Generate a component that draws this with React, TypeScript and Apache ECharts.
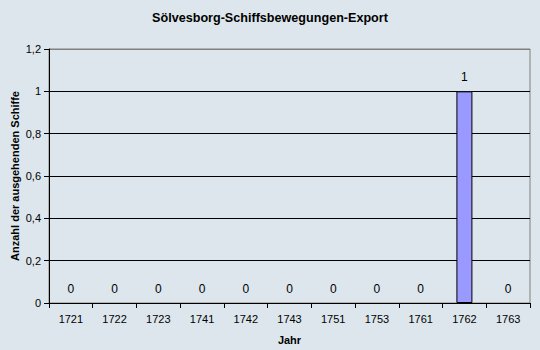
import React, { useEffect, useRef } from "react";
import * as echarts from "echarts";

const categories = ["1721", "1722", "1723", "1741", "1742", "1743", "1751", "1753", "1761", "1762", "1763"];
const values = [0, 0, 0, 0, 0, 0, 0, 0, 0, 1, 0];
const titleText = "Sölvesborg-Schiffsbewegungen-Export";
const xName = "Jahr";
const yName = "Anzahl der ausgehenden Schiffe";

const font = "Arial, 'Liberation Sans', sans-serif";

export default function App() {
  const ref = useRef<HTMLDivElement>(null);
  useEffect(() => {
    if (!ref.current) return;
    const chart = echarts.init(ref.current, undefined, { renderer: "svg" });
    chart.setOption({
      animation: false,
      backgroundColor: "#dce6ec",
      textStyle: { fontFamily: font },
      title: {
        text: titleText,
        left: "center",
        top: 6,
        textStyle: { fontFamily: font, fontSize: 12.6, fontWeight: "bold", color: "#000" },
      },
      graphic: [
        {
          type: "text",
          x: 15,
          y: 176,
          rotation: Math.PI / 2,
          style: {
            text: yName,
            align: "center",
            verticalAlign: "middle",
            fontFamily: font,
            fontSize: 11,
            fontWeight: "bold",
            fill: "#000",
          },
        },
      ],
      grid: {
        left: 49,
        right: 10,
        top: 49,
        bottom: 47,
        outerBoundsMode: "none",
        containLabel: false,
        show: true,
        borderColor: "#808080",
        borderWidth: 1,
        backgroundColor: "transparent",
      },
      xAxis: {
        type: "category",
        data: categories,
        name: xName,
        nameLocation: "middle",
        nameGap: 31,
        nameMoveOverlap: false,
        nameTextStyle: { fontFamily: font, fontSize: 11, fontWeight: "bold", color: "#000" },
        axisLine: { lineStyle: { color: "#000", width: 1 } },
        axisTick: { show: true, length: 5, lineStyle: { color: "#000" } },
        axisLabel: { fontFamily: font, fontSize: 11, color: "#000", margin: 10 },
      },
      yAxis: {
        type: "value",
        min: 0,
        max: 1.2,
        interval: 0.2,
        axisLine: { show: true, lineStyle: { color: "#000", width: 1 } },
        axisTick: { show: true, length: 5, lineStyle: { color: "#000" } },
        axisLabel: {
          fontFamily: font,
          fontSize: 11,
          color: "#000",
          margin: 8,
          formatter: (v: number) => (Math.round(v * 10) / 10).toString().replace(".", ","),
        },
        splitLine: {
          show: true,
          lineStyle: { color: ["#000", "#000", "#000", "#000", "#000", "#000", "#808080"], width: 1 },
        },
      },
      series: [
        {
          type: "bar",
          data: values.map((v) => ({
            value: v,
            itemStyle: v === 0 ? { borderWidth: 0, color: "transparent", borderColor: "transparent" } : undefined,
          })),
          barWidth: 16,
          itemStyle: { color: "#9999ff", borderColor: "#000", borderWidth: 1 },
          label: {
            show: true,
            position: "top",
            distance: 8,
            fontFamily: font,
            fontSize: 12,
            color: "#000",
          },
        },
      ],
    });
    return () => chart.dispose();
  }, []);
  return <div ref={ref} style={{ width: 540, height: 350, position: "absolute", left: 0, top: 0 }} />;
}
